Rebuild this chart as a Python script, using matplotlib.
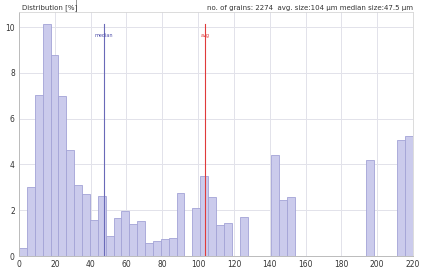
import numpy as np
import matplotlib
matplotlib.use("Agg")
import matplotlib.pyplot as plt

# --- data ---
bin_width = 4.4
bin_starts = [i * 4.4 for i in range(50)]
values = [0.36, 3.03, 7.02, 10.13, 8.80, 6.98, 4.61, 3.10, 2.71, 1.58,
          2.64, 0.89, 1.65, 1.97, 1.39, 1.55, 0.56, 0.66, 0.73, 0.79,
          2.77, 0.0, 2.09, 3.50, 2.59, 1.34, 1.46, 0.0, 1.72, 0.0,
          0.0, 0.0, 4.42, 2.46, 2.59, 0.0, 0.0, 0.0, 0.0, 0.0,
          0.0, 0.0, 0.0, 0.0, 4.21, 0.0, 0.0, 0.0, 5.05, 5.26]
median_size = 47.5
avg_size = 104
line_top = 10.13
x_ticks = [0, 20, 40, 60, 80, 100, 120, 140, 160, 180, 200, 220]
y_ticks = [0, 2, 4, 6, 8, 10]
title_left = "Distribution [%]"
title_right = "no. of grains: 2274  avg. size:104 µm median size:47.5 µm"

fig = plt.figure(figsize=(4.27, 2.69), dpi=100)
ax = fig.add_axes([19/427, 1-256/269, (413-19)/427, (256-12)/269])

ax.bar(bin_starts, values, width=bin_width, align="edge",
       color="#cbcbec", edgecolor="#a3a3d6", linewidth=0.6, zorder=2)

ax.plot([median_size, median_size], [0, line_top], color="#6a6ab8", lw=0.8, zorder=3)
ax.plot([avg_size, avg_size], [0, line_top], color="#e03a3a", lw=0.8, zorder=3)
ax.text(median_size, 9.63, "median", color="#4a4aa8", fontsize=3.5,
        ha="center", va="center", zorder=4)
ax.text(avg_size, 9.63, "avg", color="#e03a3a", fontsize=3.5,
        ha="center", va="center", zorder=4)

ax.set_xlim(0, 220)
ax.set_ylim(0, 10.66)
ax.set_xticks(x_ticks)
ax.set_yticks(y_ticks)
ax.grid(True, color="#e2e2ea", lw=0.7, zorder=0)
ax.tick_params(labelsize=5.5, colors="#333333", length=0, pad=3)
for s in ["left", "bottom"]:
    ax.spines[s].set_color("#bbbbbb")
    ax.spines[s].set_linewidth(0.7)
for s in ["top", "right"]:
    ax.spines[s].set_color("#d6d6d6")
    ax.spines[s].set_linewidth(0.6)

ax.text(0.008, 1.005, title_left, transform=ax.transAxes, fontsize=5,
        color="#333333", ha="left", va="bottom")
ax.text(1.0, 1.005, title_right, transform=ax.transAxes, fontsize=5,
        color="#333333", ha="right", va="bottom")
ax.plot([0.145, 0.145], [1.0, 1.06], transform=ax.transAxes, color="#888888",
        lw=0.6, clip_on=False)

fig.savefig("out.png", dpi=100)
